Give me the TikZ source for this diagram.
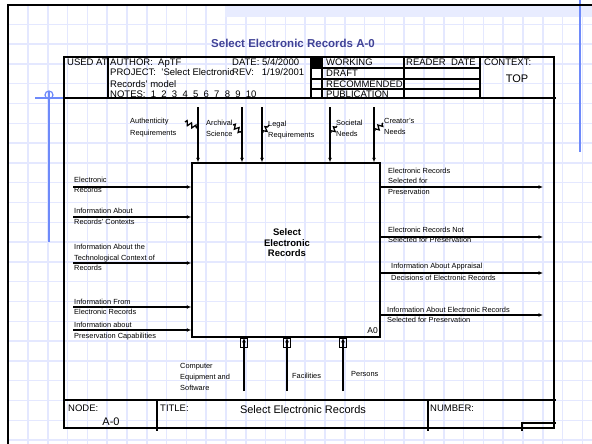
\documentclass[tikz,border=0pt]{standalone}
\usepackage{fontspec}
\setmainfont{Liberation Sans}
\usetikzlibrary{arrows.meta,decorations.pathmorphing}

\definecolor{gridblue}{RGB}{228,232,255}
\definecolor{bandblue}{RGB}{232,236,255}
\definecolor{markblue}{RGB}{110,138,250}
\definecolor{titleblue}{RGB}{64,66,150}

\tikzset{
  frame/.style={line width=1.5pt},
  flow/.style={line width=1.4pt,-{Latex[length=4.5pt,width=4pt]}},
  squig/.style={line width=1.3pt,decorate,decoration={zigzag,segment length=5pt,amplitude=2.2pt}},
  lbl/.style={font=\fontsize{7.4}{10.5}\selectfont,align=left,inner sep=0pt,anchor=west},
  hdr/.style={font=\fontsize{9.5}{10}\selectfont,inner sep=0pt,anchor=base west},
}

\begin{document}
\begin{tikzpicture}[x=1pt,y=-1pt]
  \useasboundingbox (0,0) rectangle (592,444);

  % sheet
  \foreach \k in {0,...,29} \draw[gridblue,line width=1.5pt] (8.2+19.8*\k,5) -- (8.2+19.8*\k,444);
  \foreach \k in {0,...,22} \draw[gridblue,line width=1.5pt] (8,4.5+19.8*\k) -- (592,4.5+19.8*\k);
  \fill[bandblue] (225,6) rectangle (592,17);
  \draw[markblue,line width=1.2pt] (580,0) -- (580,152);
  \draw[markblue,line width=1.2pt] (49,91) -- (49,242);
  \draw[markblue,line width=1.2pt] (35,98) -- (108,98);
  \draw[markblue,line width=1.2pt] (49,95) circle (4);
  \draw[frame] (8,444) -- (8,5) -- (592,5);

  \node (title) at (293,48) [anchor=base,font=\fontsize{11.5}{12}\selectfont\bfseries,text=titleblue,inner sep=0]{Select Electronic Records A-0};

  % form
  \draw[frame] (64,57) rectangle (554,428);
  \draw[frame] (64,98) -- (556,98);
  \draw[frame] (108,57) -- (108,98);
  \draw[frame] (311,57) -- (311,98);
  \draw[frame] (322,57) -- (322,98);
  \draw[frame] (404,57) -- (404,98);
  \draw[frame] (480,57) -- (480,98);
  \foreach \y in {68,79,89} \draw[frame] (311,\y) -- (480,\y);
  \fill (312,58) rectangle (321,68);
  \draw[frame] (64,400) -- (556,400);
  \draw[frame] (157,400) -- (157,431);
  \draw[frame] (428,400) -- (428,431);
  \draw[frame] (522,431) |- (556,423);

  \node (usedat) at (67,66) [hdr]{USED AT:};
  \node (author) at (110,66) [hdr]{AUTHOR:\ \ ApTF};
  \node (date) at (232,66) [hdr]{DATE: 5/4/2000};
  \node (project) at (110,76) [hdr]{PROJECT:\ \ 'Select Electronic};
  \node (rev) at (232,76) [hdr]{REV:\ \ \ 1/19/2001};
  \node (model) at (110,88) [hdr]{Records' model};
  \node (notes) at (110,98) [hdr]{NOTES:\ \ 1\ \ 2\ \ 3\ \ 4\ \ 5\ \ 6\ \ 7\ \ 8\ \ 9\ \ 10};
  \node (working) at (326,66) [hdr]{WORKING};
  \node (draft) at (326,76.5) [hdr]{DRAFT};
  \node (recom) at (326,87.5) [hdr]{RECOMMENDED};
  \node (public) at (326,98) [hdr]{PUBLICATION};
  \node (reader) at (406,66) [hdr]{READER\ \ DATE};
  \node (context) at (484,66) [hdr]{CONTEXT:};
  \node (top) at (517,83) [anchor=base,font=\fontsize{11}{12}\selectfont,inner sep=0]{TOP};

  \node (nodelbl) at (68,411) [hdr]{NODE:};
  \node (nodenum) at (111,425) [anchor=base,font=\fontsize{11}{12}\selectfont,inner sep=0]{A-0};
  \node (titlelbl) at (160,411) [hdr]{TITLE:};
  \node (titletxt) at (303,413) [anchor=base,font=\fontsize{11}{12}\selectfont,inner sep=0]{Select Electronic Records};
  \node (numlbl) at (430,411) [hdr]{NUMBER:};

  % activity
  \node (A0) at (286,250) [draw,frame,minimum width=188pt,minimum height=174pt]{};
  \node (A0txt) at (287,243) [align=center,font=\fontsize{9.5}{10.5}\selectfont\bfseries,inner sep=0]{Select\\Electronic\\Records};
  \node (A0num) at (378,333) [anchor=base east,font=\fontsize{8.5}{10}\selectfont,inner sep=0]{A0};

  % inputs
  \node (in1) at (74,185) [lbl]{Electronic\\Records};
  \node (in2) at (74,216.5) [lbl]{Information About\\Records' Contexts};
  \node (in3) at (74,257.5) [lbl]{Information About the\\Technological Context of\\Records};
  \node (in4) at (74,307) [lbl]{Information From\\Electronic Records};
  \node (in5) at (74,331) [lbl]{Information about\\Preservation Capabilities};
  \coordinate (i1) at (73,187);
  \coordinate (i2) at (73,217);
  \coordinate (i3) at (73,263);
  \coordinate (i4) at (73,307);
  \coordinate (i5) at (73,330);
  \foreach \c in {i1,i2,i3,i4,i5} \draw[flow] (\c) -- (\c -| A0.west);

  % outputs
  \node (out1) at (388,181) [lbl]{Electronic Records\\Selected for\\Preservation};
  \node (out2) at (388,235) [lbl]{Electronic Records Not\\Selected for Preservation};
  \node (out3) at (391,272) [lbl,font=\fontsize{7.4}{12}\selectfont]{Information About Appraisal\\Decisions of Electronic Records};
  \node (out4) at (387,315) [lbl]{Information About Electronic Records\\Selected for Preservation};
  \coordinate (o1) at (543,187);
  \coordinate (o2) at (543,237);
  \coordinate (o3) at (543,273);
  \coordinate (o4) at (543,315);
  \foreach \c in {o1,o2,o3,o4} \draw[flow] (\c -| A0.east) -- (\c);

  % controls
  \node (ctl1) at (130,127.5) [lbl,font=\fontsize{7.4}{11.5}\selectfont]{Authenticity\\Requirements};
  \node (ctl2) at (206,128.5) [lbl]{Archival\\Science};
  \node (ctl3) at (268,130) [lbl,font=\fontsize{7.4}{11}\selectfont]{Legal\\Requirements};
  \node (ctl4) at (336,128.5) [lbl]{Societal\\Needs};
  \node (ctl5) at (384,126.5) [lbl]{Creator's\\Needs};
  \coordinate (c1) at (198,107);
  \coordinate (c2) at (242,107);
  \coordinate (c3) at (262,107);
  \coordinate (c4) at (330,107);
  \coordinate (c5) at (374,107);
  \foreach \c in {c1,c2,c3,c4,c5} \draw[flow] (\c) -- (\c |- A0.north);
  \coordinate (s1a) at (185,122); \coordinate (s1b) at (197,128);
  \coordinate (s2a) at (233,125); \coordinate (s2b) at (242,133);
  \coordinate (s3a) at (263,133); \coordinate (s3b) at (269,125);
  \coordinate (s4a) at (331,133); \coordinate (s4b) at (337,126);
  \coordinate (s5a) at (375,131); \coordinate (s5b) at (383,123);
  \draw[squig] (s1a) -- (s1b);
  \draw[squig] (s2a) -- (s2b);
  \draw[squig] (s3a) -- (s3b);
  \draw[squig] (s4a) -- (s4b);
  \draw[squig] (s5a) -- (s5b);

  % mechanisms
  \node (mec1) at (180,377) [lbl,font=\fontsize{7.4}{11.3}\selectfont]{Computer\\Equipment and\\Software};
  \node (mec2) at (292,376) [lbl]{Facilities};
  \node (mec3) at (351,374) [lbl]{Persons};
  \coordinate (m1) at (244,391);
  \coordinate (m2) at (287,391);
  \coordinate (m3) at (343,391);
  \foreach \c in {m1,m2,m3} {
    \draw[flow] (\c) -- (\c |- A0.south);
    \draw[line width=1pt] ([xshift=-3.5pt,yshift=-1pt]\c |- A0.south) rectangle ([xshift=3.5pt,yshift=-10pt]\c |- A0.south);
  }
\end{tikzpicture}
\end{document}
